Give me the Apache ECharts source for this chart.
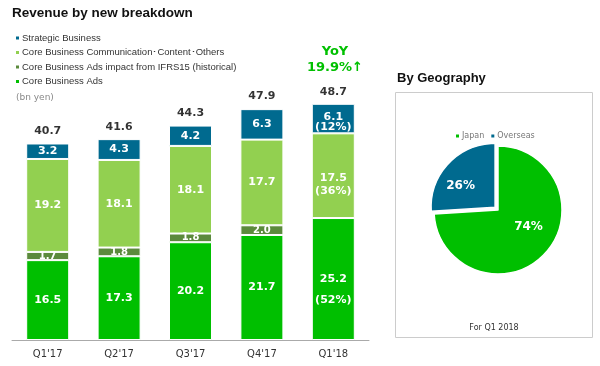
<!DOCTYPE html>
<html><head><meta charset="utf-8">
<script src="https://cdn.jsdelivr.net/npm/echarts@6/dist/echarts.min.js"></script>
<style>html,body{margin:0;padding:0;background:#fff}#c{width:600px;height:366px}</style>
</head><body><div id="c"></div>
<script>
const categories = ["Q1'17", "Q2'17", "Q3'17", "Q4'17", "Q1'18"];
const coreAds = [16.5, 17.3, 20.2, 21.7, 25.2];
const adsIFRS = [1.7, 1.8, 1.8, 2.0, 0];
const coreComm = [19.2, 18.1, 18.1, 17.7, 17.5];
const strategic = [3.2, 4.3, 4.2, 6.3, 6.1];
const totals = [40.7, 41.6, 44.3, 47.9, 48.7];
const shareQ118 = { ads: '52%', comm: '36%', strategic: '12%' };
const geoNames = ['Japan', 'Overseas'];
const geoValues = [74, 26];

const FONT = 'DejaVu Sans';
const C_STRAT = '#006a8f', C_COMM = '#92d050', C_IFRS = '#5b8a3c', C_ADS = '#00bf00';
const last = categories.length - 1;

function lbl(extra) {
  return Object.assign({ show: true, position: 'inside', color: '#fff', fontFamily: FONT, fontWeight: 'bold', fontSize: 11 }, extra || {});
}
function withLast(values, lastLabel) {
  return values.map((v, i) => i === last ? { value: v, label: lastLabel } : v);
}
function barSeries(name, data, color, label) {
  return { name, type: 'bar', stack: 'rev', data, barWidth: 43,
    itemStyle: { color, borderColor: '#fff', borderWidth: 1 }, label,
    emphasis: { disabled: true } };
}
const fmt = p => p.value === 0 ? '' : p.value.toFixed(1);
const pieOffsets = [[5, -7], [-9, 3]];

const chart = echarts.init(document.getElementById('c'));
chart.setOption({
  animation: false,
  textStyle: { fontFamily: FONT },
  grid: { left: 12, width: 357, top: 98, height: 242 },
  xAxis: { type: 'category', data: categories,
    axisLine: { lineStyle: { color: '#aaa' } }, axisTick: { show: false },
    axisLabel: { color: '#333', fontSize: 10, fontFamily: FONT, margin: 9 } },
  yAxis: { type: 'value', min: 0, max: 50, show: false, splitLine: { show: false } },
  legend: [{
    orient: 'vertical', left: 9, top: 28, itemWidth: 5, itemHeight: 5, itemGap: 4.5,
    icon: 'rect', selectedMode: false,
    textStyle: { fontSize: 9.5, color: '#333', fontFamily: 'Liberation Sans', padding: [0, 0, 0, -3] },
    data: ['Strategic Business', 'Core Business Communication･Content･Others',
           'Core Business Ads impact from IFRS15 (historical)', 'Core Business Ads']
  }, {
    orient: 'horizontal', left: 449, top: 127, itemWidth: 5, itemHeight: 5, itemGap: 5,
    icon: 'rect', selectedMode: false,
    textStyle: { fontSize: 8, color: '#777', fontFamily: FONT, padding: [0, 0, 0, -3] },
    data: geoNames
  }],
  series: [
    barSeries('Core Business Ads', withLast(coreAds, { formatter: p => p.value.toFixed(1) + '\n\n(' + shareQ118.ads + ')', lineHeight: 10.5, offset: [0, 11] }), C_ADS, lbl({ formatter: fmt })),
    barSeries('Core Business Ads impact from IFRS15 (historical)', adsIFRS, C_IFRS, lbl({ fontSize: 10, formatter: fmt })),
    barSeries('Core Business Communication･Content･Others', withLast(coreComm, { formatter: p => p.value.toFixed(1) + '\n(' + shareQ118.comm + ')', lineHeight: 13, offset: [0, 9] }), C_COMM, lbl({ formatter: fmt })),
    barSeries('Strategic Business', withLast(strategic, { formatter: p => p.value.toFixed(1) + '\n(' + shareQ118.strategic + ')', lineHeight: 10, offset: [0, 4] }), C_STRAT, lbl({ formatter: fmt })),
    { name: 'Total', type: 'scatter', data: totals, symbolSize: 1,
      itemStyle: { color: 'rgba(0,0,0,0)' }, emphasis: { disabled: true },
      label: { show: true, position: 'top', distance: 6, color: '#000', fontWeight: 'bold', fontSize: 11, fontFamily: FONT,
        formatter: p => p.value.toFixed(1) } },
    { name: 'Geography', type: 'pie', center: [498, 210], radius: 64, startAngle: 90, clockwise: true,
      selectedMode: 'single', selectedOffset: 4,
      data: geoNames.map((n, i) => ({ name: n, value: geoValues[i], selected: i === 1,
        label: { offset: pieOffsets[i] },
        select: { label: { offset: pieOffsets[i] } },
        itemStyle: { color: i === 0 ? C_ADS : C_STRAT, borderColor: '#fff', borderWidth: 1.5 } })),
      label: { show: true, position: 'inside', color: '#fff', fontWeight: 'bold', fontSize: 12, fontFamily: FONT,
        formatter: p => p.value + '%' },
      labelLine: { show: false }, emphasis: { disabled: true } }
  ],
  graphic: [
    { type: 'text', left: 12, top: 6, style: { text: 'Revenue by new breakdown', font: 'bold 13.5px "Liberation Sans"', fill: '#111' } },
    { type: 'text', left: 16, top: 93, style: { text: '(bn yen)', font: '9px "DejaVu Sans"', fill: '#888' } },
    { type: 'text', x: 335, y: 52, style: { text: 'YoY', font: 'bold 13px "DejaVu Sans"', fill: '#00c000', align: 'center', verticalAlign: 'middle' } },
    { type: 'text', x: 335, y: 68, style: { text: '19.9%↑', font: 'bold 13px "DejaVu Sans"', fill: '#00c000', align: 'center', verticalAlign: 'middle' } },
    { type: 'text', left: 397, top: 72, style: { text: 'By Geography', font: 'bold 13px "Liberation Sans"', fill: '#111' } },
    { type: 'rect', shape: { x: 395.5, y: 92.5, width: 197, height: 245 }, style: { fill: 'none', stroke: '#ccc', lineWidth: 1 }, z: -1 },
    { type: 'text', x: 494, y: 328, style: { text: 'For Q1 2018', font: '8px "DejaVu Sans"', fill: '#333', align: 'center', verticalAlign: 'middle' } }
  ]
});
</script></body></html>
